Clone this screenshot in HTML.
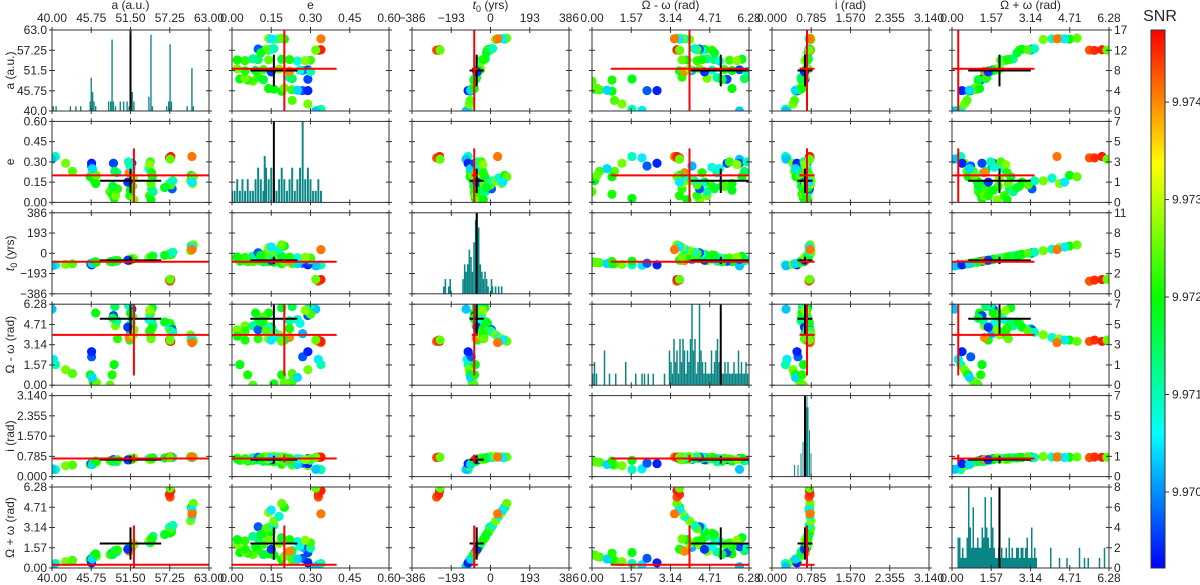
<!DOCTYPE html>
<html><head><meta charset="utf-8">
<style>
html,body{margin:0;padding:0;background:#fff;}
svg{display:block;font-family:"Liberation Sans",sans-serif;}
</style></head>
<body>
<svg id="chart" width="1200" height="585" viewBox="0 0 1200 585" xmlns="http://www.w3.org/2000/svg">
<defs id="defs"></defs>
<g id="plots"></g>
<g id="labels"></g>
<g id="cbar"></g>
</svg>
<script>
// ---- data ----
const paramNames = ['a (a.u.)','e','t0 (yrs)','Ω - ω (rad)','i (rad)','Ω + ω (rad)'];
const ranges = [[40,63],[0,0.6],[-386,386],[0,6.28],[0,3.14],[0,6.28]];
const topTicks = [['40.00','45.75','51.50','57.25','63.00'],['0.00','0.15','0.30','0.45','0.60'],['\u2212386','\u2212193','0','193','386'],['0.00','1.57','3.14','4.71','6.28'],['0.000','0.785','1.570','2.355','3.140'],['0.00','1.57','3.14','4.71','6.28']];
const leftTicks = [['40.0','45.75','51.5','57.25','63.0'],['0.00','0.15','0.30','0.45','0.60'],['\u2212386','\u2212193','0','193','386'],['0.00','1.57','3.14','4.71','6.28'],['0.000','0.785','1.570','2.355','3.140'],['0.00','1.57','3.14','4.71','6.28']];
const countMax = [17,7,11,7,7,8];
const rightTicks = [['0','4','8','12','17'],['0','1','3','5','7'],['0','2','5','8','11'],['0','1','3','5','7'],['0','1','3','5','7'],['0','2','4','6','8']];
const truth = [52,0.2,-80,3.9,0.7,0.25];
const truthLo = [40,0,-92,0.75,0.55,0];
const truthHi = [63,0.4,-62,6.28,0.85,3.3];
const median = [51.5,0.16,-68,5.15,0.66,1.9];
const spread = [4.5,0.09,35,1.2,0.15,1.25];
const snrMin = 9.96922, snrMax = 9.97474;
const cbarTicks = [9.970,9.971,9.972,9.973,9.974];
// samples: a, e, t0, Ω-ω, i, Ω+ω, SNR
const samples = [
[40.2,0.33,-115,2.0,0.30,0.25,9.9705],
[40.5,0.34,-110,1.6,0.27,0.35,9.9710],
[40.0,0.32,-120,5.9,0.28,0.10,9.9703],
[42.0,0.29,-105,1.2,0.42,0.50,9.9726],
[43.0,0.23,-100,0.9,0.45,0.60,9.9724],
[45.6,0.19,-100,0.8,0.48,0.65,9.9720],
[45.8,0.27,-95,2.2,0.52,0.75,9.9697],
[45.8,0.29,-110,2.6,0.50,0.40,9.9694],
[46.0,0.23,-90,0.3,0.55,0.85,9.9723],
[46.2,0.16,-85,0.1,0.58,1.00,9.9719],
[46.5,0.20,-88,0.2,0.56,0.90,9.9725],
[45.9,0.25,-98,0.6,0.47,0.70,9.9704],
[46.4,0.14,-80,5.6,0.60,1.10,9.9720],
[48.5,0.08,-80,0.0,0.62,1.05,9.9724],
[48.8,0.06,-78,0.8,0.60,1.15,9.9721],
[49.1,0.03,-75,1.6,0.63,1.20,9.9719],
[49.3,0.05,-72,4.6,0.64,1.30,9.9726],
[49.5,0.22,-74,5.0,0.58,1.25,9.9711],
[49.0,0.29,-76,5.4,0.66,1.20,9.9696],
[49.2,0.23,-70,6.1,0.61,1.35,9.9715],
[49.6,0.10,-68,3.6,0.65,1.40,9.9722],
[48.9,0.12,-82,5.2,0.59,1.05,9.9717],
[51.4,0.05,-65,3.5,0.68,1.45,9.9721],
[51.5,0.27,-60,4.0,0.66,1.60,9.9702],
[51.7,0.29,-58,5.9,0.70,1.65,9.9696],
[51.3,0.22,-70,3.7,0.67,1.30,9.9740],
[51.6,0.26,-55,4.8,0.69,1.70,9.9708],
[51.8,0.12,-50,5.3,0.71,1.85,9.9723],
[51.2,0.30,-62,6.2,0.64,1.55,9.9710],
[52.0,0.02,-52,4.3,0.72,1.80,9.9726],
[51.9,0.18,-48,3.9,0.68,1.90,9.9727],
[51.5,0.09,-57,5.6,0.66,1.65,9.9719],
[51.1,0.15,-66,4.5,0.65,1.45,9.9695],
[54.3,0.05,-40,4.2,0.70,2.10,9.9722],
[54.5,0.02,-35,3.8,0.68,2.20,9.9720],
[54.6,0.10,-30,4.9,0.72,2.30,9.9714],
[54.4,0.30,-45,5.5,0.69,1.95,9.9723],
[54.7,0.19,-28,6.0,0.71,2.35,9.9718],
[54.2,0.25,-42,5.1,0.70,2.05,9.9708],
[54.5,0.14,-33,3.6,0.67,2.25,9.9725],
[54.8,0.08,-25,4.6,0.73,2.45,9.9712],
[54.3,0.28,-38,5.8,0.66,2.15,9.9727],
[54.6,0.22,-36,4.4,0.71,2.20,9.9721],
[57.3,0.12,-15,4.8,0.75,2.70,9.9722],
[57.5,0.15,-10,4.5,0.74,2.80,9.9720],
[57.2,0.14,-5,4.4,0.76,3.15,9.9708],
[57.6,0.10,5,4.3,0.75,3.20,9.9697],
[57.4,0.13,0,4.2,0.77,3.05,9.9724],
[56.5,0.11,-20,4.9,0.72,2.60,9.9718],
[57.7,0.16,10,4.1,0.74,3.30,9.9710],
[60.3,0.16,25,3.9,0.78,3.65,9.9726],
[60.5,0.18,40,3.7,0.76,4.00,9.9709],
[60.6,0.14,55,3.6,0.77,4.30,9.9727],
[60.4,0.20,70,3.5,0.75,4.70,9.9720],
[60.7,0.19,80,3.4,0.76,5.00,9.9725],
[60.5,0.15,60,3.5,0.74,4.50,9.9705],
[60.5,0.34,35,3.3,0.76,4.20,9.9741],
[57.3,0.33,-265,3.4,0.74,5.50,9.9743],
[57.2,0.33,-255,3.5,0.76,5.70,9.9745],
[57.4,0.34,-250,3.4,0.75,6.00,9.9746],
[57.3,0.32,-248,3.5,0.75,6.20,9.9725]
];
// histograms: sparse [value,count] pairs
const histA = [[40.2,1],[40.6,1],[42.7,1],[43.5,1],[44.2,1],[45.6,2],[45.75,7],[45.95,4],[46.15,2],[46.4,1],[48.3,2],[48.6,2],[48.8,15],[49.0,2],[49.3,1],[50.0,2],[50.5,2],[51.0,2],[51.3,1],[51.5,5],[51.75,4],[52.0,2],[54.2,3],[54.5,16],[54.7,1],[56.8,1],[57.1,2],[57.3,14],[57.5,2],[59.8,1],[60.5,9],[60.7,1]];
const histE = [[0.0,1],[0.01,1],[0.02,2],[0.03,1],[0.04,2],[0.05,1],[0.06,2],[0.07,1],[0.08,1],[0.09,2],[0.10,3],[0.11,2],[0.12,1],[0.125,4],[0.13,3],[0.14,2],[0.15,3],[0.16,2],[0.17,1],[0.18,2],[0.19,3],[0.20,2],[0.21,1],[0.22,2],[0.23,3],[0.24,1],[0.25,2],[0.26,3],[0.27,7],[0.28,2],[0.29,3],[0.30,2],[0.31,1],[0.32,1],[0.33,2],[0.34,1]];
const histT0 = [[-230,1],[-222,2],[-205,1],[-198,2],[-135,2],[-127,4],[-120,3],[-112,4],[-104,6],[-96,5],[-89,3],[-81,7],[-73,10],[-66,11],[-58,9],[-50,4],[-42,3],[-35,2],[-27,3],[-19,2],[-12,1],[5,2],[10,1],[25,1],[40,1],[55,1]];
const histDw = [[0.03,1],[0.1,2],[0.18,1],[0.5,3],[0.7,1],[0.95,1],[1.35,2],[1.75,1],[2.0,1],[2.1,1],[2.25,1],[2.45,1],[2.9,1],[3.1,3],[3.16,2],[3.22,1],[3.28,4],[3.34,2],[3.4,3],[3.46,1],[3.52,4],[3.58,2],[3.64,4],[3.7,3],[3.76,1],[3.82,3],[3.88,2],[3.94,4],[4.0,7],[4.06,3],[4.12,4],[4.18,1],[4.24,2],[4.3,7],[4.36,3],[4.42,2],[4.48,1],[4.54,2],[4.6,1],[4.66,1],[4.72,1],[4.78,3],[4.84,1],[4.9,2],[4.96,3],[5.02,4],[5.08,2],[5.14,3],[5.2,1],[5.26,1],[5.32,2],[5.38,1],[5.44,2],[5.5,1],[5.56,1],[5.62,1],[5.68,2],[5.74,1],[5.8,1],[5.86,3],[5.92,1],[5.98,2],[6.04,1],[6.1,1],[6.16,2],[6.22,1]];
const histI = [[0.45,1],[0.52,1],[0.58,2],[0.62,3],[0.65,5],[0.68,6],[0.70,7],[0.72,6],[0.75,4],[0.78,2]];
const histPw = [[0.25,3],[0.31,3],[0.37,1],[0.43,2],[0.49,1],[0.55,1],[0.61,3],[0.67,8],[0.73,4],[0.79,2],[0.85,6],[0.91,2],[0.97,2],[1.03,3],[1.09,2],[1.15,2],[1.21,4],[1.27,3],[1.33,7],[1.39,4],[1.45,3],[1.51,2],[1.57,7],[1.63,4],[1.69,2],[1.75,1],[1.81,1],[1.87,2],[1.93,1],[1.99,2],[2.05,1],[2.11,1],[2.17,2],[2.23,1],[2.29,3],[2.35,1],[2.41,2],[2.47,1],[2.53,1],[2.59,2],[2.65,2],[2.71,1],[2.77,2],[2.83,2],[2.89,1],[2.95,2],[3.01,3],[3.07,1],[3.13,1],[3.19,4],[3.25,1],[3.31,2],[3.37,1],[3.95,2],[4.3,1],[4.6,1],[5.1,2],[5.3,1],[5.45,1],[5.9,1],[6.1,2]];
const hists = [histA,histE,histT0,histDw,histI,histPw];

// ---- layout ----
const NS='http://www.w3.org/2000/svg';
const colL=[52,232,412,592,772,952], PW=157;
const rowT=[30,121.4,212.8,304.2,395.6,487], PH=81;
const binW=[0.2,0.0075,7.7,0.06,0.02,0.06];
function mk(tag,attrs,parent){const e=document.createElementNS(NS,tag);for(const k in attrs)e.setAttribute(k,attrs[k]);parent.appendChild(e);return e;}
function sx(c,v){const r=ranges[c];return colL[c]+(v-r[0])/(r[1]-r[0])*PW;}
function sy(r,v){const g=ranges[r];return rowT[r]+PH-(v-g[0])/(g[1]-g[0])*PH;}
function cl(x){return Math.max(0,Math.min(1,x));}
function cmap(s){const t=cl((s-snrMin)/(snrMax-snrMin));return 'hsl('+(240*(1-t)).toFixed(1)+',100%,50%)';}
const plots=document.getElementById('plots'), defs=document.getElementById('defs');
for(let r=0;r<6;r++){for(let c=0;c<6;c++){
 const x0=colL[c],y0=rowT[r];
 const cp=mk('clipPath',{id:'cp'+r+c},defs);mk('rect',{x:x0,y:y0,width:PW,height:PH},cp);
 const g=mk('g',{'clip-path':'url(#cp'+r+c+')'},plots);
 
 
 if(r===c){
  for(const [v,n] of hists[c]){
   const xa=sx(c,v-binW[c]/2), xb=sx(c,v+binW[c]/2);
   const yt=y0+PH-n/countMax[r]*PH;
   const b=mk('rect',{x:xa,y:yt,width:Math.max(1,xb-xa),height:y0+PH-yt,fill:'#0b8686'},g);
   
   
  }
  mk('line',{x1:sx(c,median[c]),x2:sx(c,median[c]),y1:y0,y2:y0+PH,stroke:'#000','stroke-width':2},g);
 } else {
  for(const s of samples){
   const d=mk('circle',{cx:sx(c,s[c]),cy:sy(r,s[r]),r:4.6,fill:cmap(s[6])},g);
   
   
  }
  mk('line',{x1:sx(c,median[c]-spread[c]),x2:sx(c,median[c]+spread[c]),y1:sy(r,median[r]),y2:sy(r,median[r]),stroke:'#000','stroke-width':2},g);
  mk('line',{x1:sx(c,median[c]),x2:sx(c,median[c]),y1:sy(r,median[r]-spread[r]),y2:sy(r,median[r]+spread[r]),stroke:'#000','stroke-width':2},g);
  mk('line',{x1:sx(c,truthLo[c]),x2:sx(c,truthHi[c]),y1:sy(r,truth[r]),y2:sy(r,truth[r]),stroke:'#ff0000','stroke-width':2},g);
  mk('line',{x1:sx(c,truth[c]),x2:sx(c,truth[c]),y1:sy(r,truthLo[r]),y2:sy(r,truthHi[r]),stroke:'#ff0000','stroke-width':2},g);
 }
 const fr=mk('rect',{x:x0,y:y0,width:PW,height:PH,fill:'none',stroke:'#333','stroke-width':1},plots);
 
 
 for(let k=0;k<5;k++){
  const tx=x0+k*PW/4, ty=y0+k*PH/4;
  mk('line',{x1:tx,x2:tx,y1:y0-3,y2:y0+3,stroke:'#333'},plots);
  mk('line',{x1:tx,x2:tx,y1:y0+PH-3,y2:y0+PH+3,stroke:'#333'},plots);
  mk('line',{x1:x0-3,x2:x0+3,y1:ty,y2:ty,stroke:'#333'},plots);
  mk('line',{x1:x0+PW-3,x2:x0+PW+3,y1:ty,y2:ty,stroke:'#333'},plots);
 }
}}
// labels
const lab=document.getElementById('labels');
function txt(x,y,s,anchor,size,parent,name){const t=mk('text',{x:x,y:y,'text-anchor':anchor,'font-size':size,fill:'#262626'},parent);t.textContent=s;
 
 return t;}
for(let c=0;c<6;c++){
 for(let k=0;k<5;k++){
  const x=colL[c]+k*PW/4;
  txt(x,22,topTicks[c][k],'middle',12,lab,'top-tick-label');
  txt(x,582,topTicks[c][k],'middle',12,lab,'bottom-tick-label');
 }
 const cx=colL[c]+PW/2;
 if(c===2){const t=mk('text',{x:cx,y:9,'text-anchor':'middle','font-size':12,fill:'#262626'},lab);
  
  
  t.innerHTML='<tspan font-style="italic">t</tspan><tspan font-size="9" dy="3">0</tspan><tspan dy="-3"> (yrs)</tspan>';}
 else txt(cx,9,paramNames[c],'middle',12,lab,'top-axis-title');
}
for(let r=0;r<6;r++){
 for(let k=0;k<5;k++){
  const y=rowT[r]+PH-k*PH/4+4;
  txt(47,y,leftTicks[r][k],'end',12,lab,'left-tick-label');
  txt(1114,y,rightTicks[r][k],'start',12,lab,'right-tick-label');
 }
 const cy=rowT[r]+PH/2;
 if(r===2){const t=mk('text',{x:0,y:0,'text-anchor':'middle','font-size':12,fill:'#262626',transform:'translate(14,'+cy+') rotate(-90)'},lab);
  
  
  t.innerHTML='<tspan font-style="italic">t</tspan><tspan font-size="9" dy="3">0</tspan><tspan dy="-3"> (yrs)</tspan>';}
 else {const t=txt(0,0,paramNames[r],'middle',12,lab,'left-axis-title');t.setAttribute('transform','translate(14,'+cy+') rotate(-90)');}
}
// colorbar
const cb=document.getElementById('cbar');
const lg=mk('linearGradient',{id:'cbg',x1:0,y1:1,x2:0,y2:0},defs);
for(let k=0;k<=20;k++){const s=snrMin+(snrMax-snrMin)*k/20;mk('stop',{offset:(k*5)+'%','stop-color':cmap(s)},lg);}
const CBX=1151,CBT=30,CBB=568;
const bar=mk('rect',{x:CBX,y:CBT,width:14,height:CBB-CBT,fill:'url(#cbg)',stroke:'#333','stroke-width':1},cb);


txt(1160,21,'SNR','middle',16,cb,'colorbar-title');
for(const v of cbarTicks){
 const y=CBB-(v-snrMin)/(snrMax-snrMin)*(CBB-CBT);
 mk('line',{x1:CBX+14,x2:CBX+18,y1:y,y2:y,stroke:'#333'},cb);
 txt(1172,y+4,v.toFixed(3),'start',12,cb,'colorbar-tick-label');
}
</script>
</body></html>
